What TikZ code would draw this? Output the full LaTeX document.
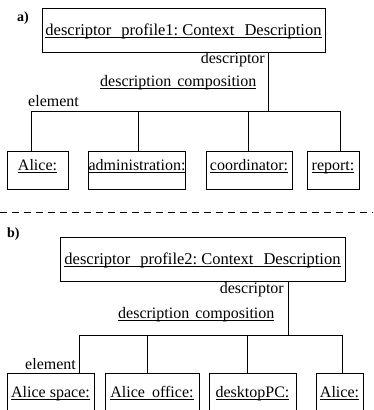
\documentclass[tikz,border=0pt]{standalone}
\usepackage{fontspec}
\setmainfont{Liberation Serif}
\usetikzlibrary{calc}
\newcommand{\ulin}[1]{\setbox0\hbox{#1}\rlap{\rule[-2.6pt]{\wd0}{0.9pt}}\box0}
\tikzset{
  txt/.style={inner sep=0pt, font=\fontsize{16}{18}\selectfont},
  tag/.style={inner sep=0pt, anchor=base west, font=\fontsize{14}{16}\selectfont\bfseries},
  topbox/.style={draw, line width=1pt, inner sep=0pt, anchor=north, text height=27pt, text depth=17pt, font=\fontsize{16.5}{18}\selectfont},
  objbox/.style={draw, line width=1pt, inner sep=0pt, anchor=north, text height=19pt, text depth=19pt, font=\fontsize{16}{18}\selectfont},
  link/.style={line width=1pt}
}
\begin{document}
\begin{tikzpicture}[x=1pt,y=-1pt]
		%%%%% START %%%%%
		\useasboundingbox (0,0) rectangle (373,410);
		\clip (0,0) rectangle (373,410);
		
		% part a
		\node[tag] (taga) at (17,21) {a)};
		\node[topbox, minimum width=283pt] (topa) at (183.5,8) {\ulin{descriptor\hspace{10pt}profile1:\hspace{4pt}Context\hspace{10pt}Description}};
		\node[txt, anchor=base east] (rolea) at (265,63) {descriptor};
		\node[txt, anchor=base west] (compa) at (100,86) {\ulin{description\hspace{6pt}composition}};
		\node[txt, anchor=base west] (elema) at (28,106) {element};
		
		\node[objbox, minimum width=61pt] (alicea) at (37.5,151) {\ulin{Alice:}};
		\node[objbox, minimum width=96pt] (admin) at (137,151) {\ulin{administration:}};
		\node[objbox, minimum width=86pt] (coord) at (249,151) {\ulin{coordinator:}};
		\node[objbox, minimum width=52pt] (report) at (333,151) {\ulin{report:}};
		
		\coordinate (ja0) at (268,111);
		\coordinate (ja1) at (31,111);
		\coordinate (ja2) at (138,111);
		\coordinate (ja3) at (248,111);
		\coordinate (ja4) at (340,111);
		\draw[link] (topa.south -| ja0) -- (ja0);
		\draw[link] (ja1) -- (ja4);
		\draw[link] (ja1) -- (ja1 |- alicea.north);
		\draw[link] (ja2) -- (ja2 |- admin.north);
		\draw[link] (ja3) -- (ja3 |- coord.north);
		\draw[link] (ja4) -- (ja4 |- report.north);
		
		\draw[line width=1pt, dash pattern=on 7pt off 5pt] (0,212) -- (373,212);
		
		% part b
		\node[tag] (tagb) at (7,237) {b)};
		\node[topbox, minimum width=285pt] (topb) at (202.5,237) {\ulin{descriptor\hspace{10pt}profile2:\hspace{4pt}Context\hspace{10pt}Description}};
		\node[txt, anchor=base east] (roleb) at (284,293) {descriptor};
		\node[txt, anchor=base west] (compb) at (118,318) {\ulin{description\hspace{6pt}composition}};
		\node[txt, anchor=base west] (elemb) at (25,369) {element};
		
		\node[objbox, minimum width=87pt, text height=24pt, text depth=20pt] (space) at (50.5,373) {\ulin{Alice space:}};
		\node[objbox, minimum width=94pt, text height=24pt, text depth=20pt] (office) at (152,373) {\ulin{Alice\hspace{7pt}office:}};
		\node[objbox, minimum width=87pt, text height=24pt, text depth=20pt] (pc) at (252.5,373) {\ulin{desktopPC:}};
		\node[objbox, minimum width=47pt, text height=24pt, text depth=20pt] (aliceb) at (339.5,373) {\ulin{Alice:}};
		
		\coordinate (jb0) at (288,335);
		\coordinate (jb1) at (79,335);
		\coordinate (jb2) at (147,335);
		\coordinate (jb3) at (247,335);
		\coordinate (jb4) at (342,335);
		\draw[link] (topb.south -| jb0) -- (jb0);
		\draw[link] (jb1) -- (jb4);
		\draw[link] (jb1) -- (jb1 |- space.north);
		\draw[link] (jb2) -- (jb2 |- office.north);
		\draw[link] (jb3) -- (jb3 |- pc.north);
		\draw[link] (jb4) -- (jb4 |- aliceb.north);
		%%%%% END %%%%%
\end{tikzpicture}
\end{document}
